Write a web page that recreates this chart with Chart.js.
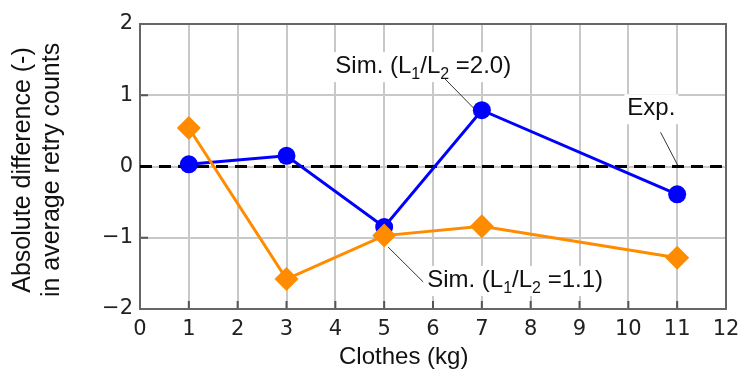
<!DOCTYPE html>
<html>
<head>
<meta charset="utf-8">
<script src="https://cdn.jsdelivr.net/npm/chart.js@4"></script>
<style>
  html, body { margin: 0; padding: 0; background: #fff; }
  canvas { display: block; }
</style>
</head>
<body>
<canvas id="chart" width="741" height="369"></canvas>
<script>
// x positions (clothes weight, kg)
const clothes = [1, 3, 5, 7, 11];
// simulated difference, L1/L2 = 2.0 (blue circles)
const simRatio20 = [0.03, 0.15, -0.85, 0.79, -0.39];
// simulated difference, L1/L2 = 1.1 (orange diamonds)
const simRatio11 = [0.54, -1.58, -0.97, -0.84, -1.28];
// experiment reference line (zero)
const expX = [0, 12];
const expY = [0, 0];

const xTicks = [0, 1, 2, 3, 4, 5, 6, 7, 8, 9, 10, 11, 12];
const yTicks = [-2, -1, 0, 1, 2];
const xTitle = 'Clothes (kg)';
// trailing space nudges the rotated title a little downwards, as in the original
const yTitle = ['Absolute difference (-) ', 'in average retry counts '];

const toPoints = (xs, ys) => xs.map((x, i) => ({ x: x, y: ys[i] }));

const SANS = '"Liberation Sans", Arial, sans-serif';
const DEJAVU = '"DejaVu Sans", sans-serif';

// labels with subscripts, anchored in data coordinates
const notes = [
    { x: 4.0, y: 1.31, parts: [['Sim. (L'], ['1', 1], ['/L'], ['2', 1], [' =2.0)']],
      lead: [6.23, 1.24, 6.86, 0.80] },
    { x: 9.98, y: 0.72, parts: [['Exp.']],
      lead: [10.66, 0.48, 11.04, -0.02] },
    { x: 5.88, y: -1.69, parts: [['Sim. (L'], ['1', 1], ['/L'], ['2', 1], [' =1.1)']],
      lead: [5.08, -1.13, 5.80, -1.62] }
];

const framePlugin = {
    id: 'frame',
    beforeDatasetsDraw(chart) {
        const ctx = chart.ctx;
        const a = chart.chartArea;
        const xs = chart.scales.x, ys = chart.scales.y;
        ctx.save();
        // inner tick marks on bottom and left
        ctx.strokeStyle = '#555';
        ctx.lineWidth = 2;
        ctx.beginPath();
        xTicks.forEach(v => {
            const px = xs.getPixelForValue(v);
            ctx.moveTo(px, a.bottom);
            ctx.lineTo(px, a.bottom - 8);
        });
        yTicks.forEach(v => {
            const py = ys.getPixelForValue(v);
            ctx.moveTo(a.left, py);
            ctx.lineTo(a.left + 8, py);
        });
        ctx.stroke();
        // box
        ctx.strokeStyle = '#666';
        ctx.strokeRect(a.left, a.top, a.right - a.left, a.bottom - a.top);

        // annotations
        const big = '24px ' + SANS, small = '16px ' + SANS;
        notes.forEach(n => {
            const x0 = xs.getPixelForValue(n.x), y0 = ys.getPixelForValue(n.y);
            let w = 0;
            n.parts.forEach(p => { ctx.font = p[1] ? small : big; w += ctx.measureText(p[0]).width; });
            ctx.fillStyle = '#fff';
            ctx.fillRect(x0 - 3, y0 - 21, w + 6, 30);
            ctx.fillStyle = '#111';
            ctx.textBaseline = 'alphabetic';
            ctx.textAlign = 'left';
            let cx = x0;
            n.parts.forEach(p => {
                ctx.font = p[1] ? small : big;
                ctx.fillText(p[0], cx, p[1] ? y0 + 6 : y0);
                cx += ctx.measureText(p[0]).width;
            });
            ctx.strokeStyle = '#333';
            ctx.lineWidth = 1;
            ctx.beginPath();
            ctx.moveTo(xs.getPixelForValue(n.lead[0]), ys.getPixelForValue(n.lead[1]));
            ctx.lineTo(xs.getPixelForValue(n.lead[2]), ys.getPixelForValue(n.lead[3]));
            ctx.stroke();
        });
        ctx.restore();
    },
    afterDraw(chart) {
        // x axis title sits left of the plot centre in the original
        const ctx = chart.ctx;
        ctx.save();
        ctx.font = '24px ' + SANS;
        ctx.fillStyle = '#111';
        ctx.textAlign = 'center';
        ctx.textBaseline = 'middle';
        ctx.fillText(xTitle, chart.scales.x.getPixelForValue(5.4), chart.height - 12);
        ctx.restore();
    }
};

new Chart(document.getElementById('chart'), {
    type: 'line',
    data: {
        datasets: [
            {
                label: 'Sim. (L1/L2 =1.1)',
                data: toPoints(clothes, simRatio11),
                borderColor: '#ff8c00',
                backgroundColor: '#ff8c00',
                borderWidth: 3,
                pointStyle: 'rectRot',
                pointRadius: 12,
                pointBorderWidth: 0,
                order: 1
            },
            {
                label: 'Sim. (L1/L2 =2.0)',
                data: toPoints(clothes, simRatio20),
                borderColor: '#0000ff',
                backgroundColor: '#0000ff',
                borderWidth: 3,
                pointStyle: 'circle',
                pointRadius: 9,
                pointBorderWidth: 0,
                order: 2
            },
            {
                label: 'Exp.',
                data: toPoints(expX, expY),
                borderColor: '#000',
                borderWidth: 3,
                borderDash: [12, 7],
                pointRadius: 0,
                order: 3
            }
        ]
    },
    options: {
        responsive: false,
        devicePixelRatio: 1,
        animation: false,
        layout: { padding: { top: 24, right: 15, left: 0, bottom: 0 } },
        plugins: {
            legend: { display: false },
            tooltip: { enabled: false }
        },
        scales: {
            x: {
                type: 'linear',
                min: 0, max: 12,
                afterBuildTicks: s => { s.ticks = xTicks.map(v => ({ value: v })); },
                afterFit: s => { s.height = 60; s.paddingLeft = 0; s.paddingRight = 0; },
                grid: { color: '#c8c8c8', lineWidth: 2, drawTicks: false },
                border: { display: false },
                ticks: { font: { family: DEJAVU, size: 21 }, color: '#222', padding: 8, maxRotation: 0 },
                title: { display: false }
            },
            y: {
                min: -2, max: 2,
                afterBuildTicks: s => { s.ticks = yTicks.map(v => ({ value: v })); },
                afterFit: s => { s.width = 140; s.paddingTop = 0; s.paddingBottom = 0; },
                grid: { color: '#c8c8c8', lineWidth: 2, drawTicks: false },
                border: { display: false },
                ticks: {
                    font: { family: DEJAVU, size: 21 }, color: '#222', padding: 7,
                    callback: v => String(v).replace('-', '\u2212')
                },
                title: {
                    display: true,
                    text: yTitle,
                    color: '#111',
                    font: { family: SANS, size: 25, lineHeight: 1.16 },
                    padding: { top: 9, bottom: 0 }
                }
            }
        }
    },
    plugins: [framePlugin]
});
</script>
</body>
</html>
